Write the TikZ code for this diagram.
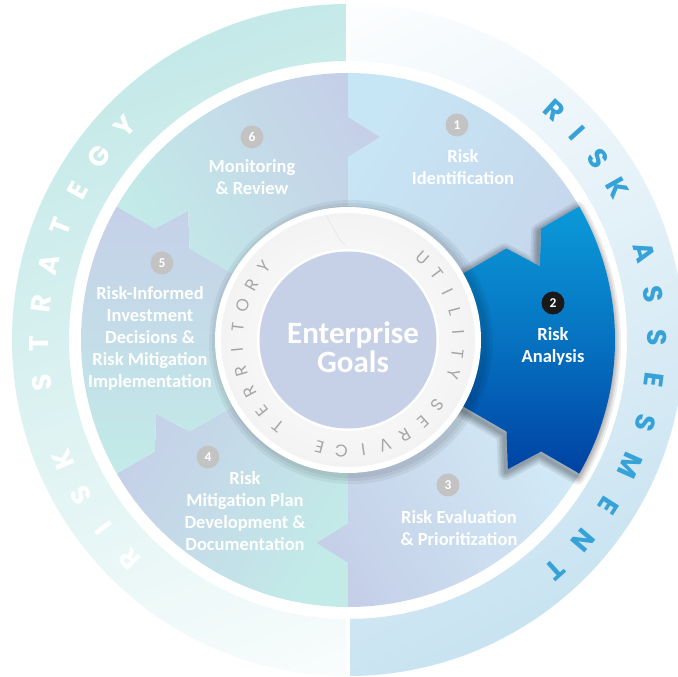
\documentclass[tikz,border=0pt]{standalone}
\usepackage{fontspec}
\setmainfont{Carlito}
\newfontfamily\geofont{Poppins}
\usetikzlibrary{calc}
\definecolor{ringteal}{HTML}{C4E9E8}
\definecolor{ringblue}{HTML}{C8E3F1}
\definecolor{pblue}{HTML}{C7E6F5}
\definecolor{plav}{HTML}{C5D0E8}
\definecolor{pteal}{HTML}{C2EBE8}
\definecolor{ptop}{HTML}{0B9AD9}
\definecolor{pbot}{HTML}{0042A3}
\definecolor{diskc}{HTML}{C6D1E7}
\definecolor{bandc}{HTML}{F3F3F3}
\definecolor{ringtext}{HTML}{A6A6A6}
\definecolor{badgegray}{HTML}{C3C3C3}
\definecolor{outblue}{HTML}{36A2D8}
\newcommand\piecepath[2]{(#1:100) -- (#1:183) -- ($(#1:203)+(#1-90:32)$) -- (#1:223) -- (#1:267)
  arc[start angle=#1, end angle=#2, radius=267] -- (#2:223) -- ($(#2:203)+(#2-90:32)$) -- (#2:183) -- (#2:100)
  arc[start angle=#2, end angle=#1, radius=100] -- cycle}
\tikzset{
  lbl/.style={text=white, align=center, font=\bfseries\fontsize{18.5}{22}\selectfont, inner sep=0pt},
  badge/.style={circle, fill=badgegray, text=white, font=\bfseries\fontsize{13.5}{13.5}\selectfont, minimum size=23pt, inner sep=0pt},
  ringletter/.style={text=ringtext, font=\geofont\fontsize{17}{17}\selectfont, inner sep=0pt},
  outletter/.style={font=\geofont\bfseries\fontsize{27}{27}\selectfont, inner sep=0pt}
}
\begin{document}
\begin{tikzpicture}[x=1pt,y=1pt]
\useasboundingbox (-348,-337) rectangle (330,340);
\begin{scope}
\clip (-348,-337) rectangle (330,340);
\fill[white] (-348,-337) rectangle (330,340);
% outer ring, left half
\begin{scope}
\clip (-400,-400) rectangle (-2.5,400);
\shade[even odd rule, top color=ringteal, bottom color=white!92!ringteal, shading angle=20] (0,0) circle[radius=336] (0,0) circle[radius=279];
\end{scope}
% outer ring, right half
\begin{scope}
\clip (2.5,-400) rectangle (400,400);
\shade[even odd rule, top color=white, bottom color=ringblue, shading angle=25] (0,0) circle[radius=336] (0,0) circle[radius=279];
\end{scope}
% pieces
\shade[top color=plav!70!pblue, bottom color=pblue, shading angle=-120] \piecepath{90}{30};
\shade[top color=plav, bottom color=pblue!80!white, shading angle=120] \piecepath{-30}{-90};
\shade[top color=plav, bottom color=pteal, shading angle=60] \piecepath{-90}{-150};
\shade[top color=plav, bottom color=pteal, shading angle=0] \piecepath{-150}{-210};
\shade[top color=plav, bottom color=pteal, shading angle=-60] \piecepath{150}{90};
% shadow of piece 2
\foreach \w in {16,12,9,6,3}
  \draw[black, opacity=0.07, line width=\w pt, line join=round, shift={(-2,-3)}] \piecepath{30}{-30};
\shade[top color=ptop, bottom color=pbot, middle color=ptop!55!pbot] \piecepath{30}{-30};
% central ring with shadow
\foreach \r in {142,139,136}
  \fill[black, opacity=0.05] (3,-2) circle[radius=\r];
\fill[white] (0,0) circle[radius=133];
\shade[inner color=white, outer color=bandc] (0,0) circle[radius=127];
\fill[white] (0,0) circle[radius=91];
\fill[diskc] (0,0) circle[radius=88.5];
% ring chevron at top
\draw[black!10, line width=0.6pt] (100:127) -- (-8,100) -- (92:95);
\node[font=\bfseries\fontsize{31}{29}\selectfont, text=white, align=center, inner sep=0pt] (goals) at (5,-7.5) {Enterprise\\Goals};
% ring words
\foreach \ang/\ch [count=\i] in {48/U,37/T,26/I,15/L,4/I,-7/T,-18/Y}
  \node[ringletter, rotate=\ang-90] (u\i) at (\ang:111) {\ch};
\foreach \ang/\ch [count=\i] in {-36/S,-47.5/E,-59/R,-70.5/V,-82/I,-93.5/C,-105/E}
  \node[ringletter, rotate=\ang-90] (s\i) at (\ang:111) {\ch};
\foreach \ang/\ch [count=\i] in {231/T,219.5/E,208/R,196.5/R,185/I,173.5/T,162/O,150.5/R,139/Y}
  \node[ringletter, rotate=\ang-90] (t\i) at (\ang:111) {\ch};
% outer words
\foreach \ang/\ch [count=\i] in {225/R,217.6/I,210.2/S,202.8/K,188/S,180.6/T,173.2/R,165.8/A,158.4/T,151/E,143.6/G,136.2/Y}
  \node[outletter, text=white, rotate=\ang-90] (rs\i) at (\ang:309) {\ch};
\foreach \ang/\ch [count=\i] in {48/R,42/I,36/S,29.5/K,16.5/A,8.5/S,0.5/S,-7.5/E,-15.5/S,-24/M,-32.5/E,-40.5/N,-48/T}
  \node[outletter, text=outblue, rotate=\ang-90] (ra\i) at (\ang:309) {\ch};
% badges and labels
\node[badge] (b1) at (109,215) {1};
\node[lbl] (l1) at (115,173) {Risk\\Identification};
\node[badge, fill=black!90] (b2) at (205,37) {2};
\node[lbl] (l2) at (205,-6.5) {Risk\\Analysis};
\node[badge] (b3) at (100,-145) {3};
\node[lbl] (l3) at (111,-188) {Risk Evaluation\\\& Prioritization};
\node[badge] (b4) at (-140,-117) {4};
\node[lbl] (l4) at (-103,-171.5) {Risk\\Mitigation Plan\\Development \&\\Documentation};
\node[badge] (b5) at (-186,77) {5};
\node[lbl] (l5) at (-198,1.5) {Risk-Informed\\Investment\\Decisions \&\\Risk Mitigation\\Implementation};
\node[badge] (b6) at (-96,203) {6};
\node[lbl] (l6) at (-96,162.5) {Monitoring\\\& Review};
\end{scope}
\end{tikzpicture}
\end{document}
